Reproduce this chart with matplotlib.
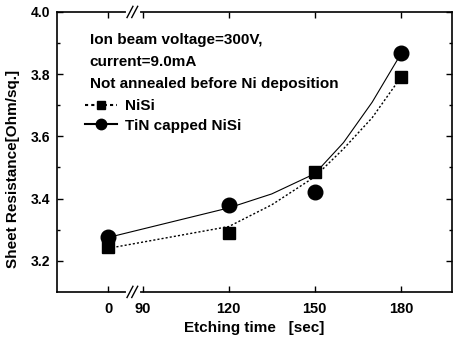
"""
Sheet resistance vs etching time (broken x axis between 0 and 90 s)
"""
import numpy as np
import matplotlib.pyplot as plt

plt.rcParams['font.family'] = ['Liberation Sans', 'DejaVu Sans']
plt.rcParams['font.weight'] = 'bold'

time = [0, 120, 150, 180]
nisi = [3.245, 3.29, 3.485, 3.79]
tin_nisi = [3.278, 3.38, 3.42, 3.868]

# fitted curves
fit_time = [0, 120, 135, 150, 160, 170, 180]
nisi_fit = [3.24, 3.31, 3.38, 3.47, 3.56, 3.66, 3.79]
tin_fit = [3.275, 3.37, 3.415, 3.48, 3.58, 3.71, 3.865]

xtick_vals = [0, 90, 120, 150, 180]
ytick_vals = [3.2, 3.4, 3.6, 3.8, 4.0]

def pos(t):
    # the 0 point sits just left of the axis break
    t = np.asarray(t, dtype=float)
    return np.where(t >= 90, t, t + 78)

fig = plt.figure(figsize=(4.57, 3.41), dpi=100)
ax = fig.add_axes([0.125, 0.144, 0.864, 0.821])

ax.plot(pos(fit_time), nisi_fit, color='black', linestyle=(0, (1.5, 1.5)), linewidth=1.0)
ax.plot(pos(fit_time), tin_fit, color='black', linestyle='-', linewidth=0.8)
ax.plot(pos(time), nisi, 's', color='black', markersize=9)
ax.plot(pos(time), tin_nisi, 'o', color='black', markersize=10.5)

ax.set_xlim(60.2, 197.8)
ax.set_ylim(3.1, 4.0)
ax.set_xticks(pos(xtick_vals))
ax.set_xticklabels([str(v) for v in xtick_vals])
ax.set_yticks(ytick_vals)
ax.set_yticklabels(['%.1f' % v for v in ytick_vals])
ax.set_yticks([3.3, 3.5, 3.7, 3.9], minor=True)
ax.tick_params(which='both', direction='in', top=True, right=True, width=1)
ax.tick_params(axis='x', labelsize=10.5, pad=7)
ax.tick_params(axis='y', labelsize=10, pad=5)
ax.tick_params(which='major', length=4)
ax.tick_params(which='minor', length=2)
for s in ax.spines.values():
    s.set_linewidth(1.2)

ax.set_xlabel('Etching time   [sec]', fontsize=11, fontweight='bold', labelpad=4)
ax.set_ylabel('Sheet Resistance[Ohm/sq.]', fontsize=11, fontweight='bold')
ax.yaxis.set_label_coords(-0.095, 0.44)

# axis break marks
for yb in (0, 1):
    ax.plot([0.18, 0.205], [yb, yb], transform=ax.transAxes, color='white',
            linewidth=3, clip_on=False, zorder=5)
    for dx in (0.0, 0.012):
        ax.plot([0.177 + dx, 0.192 + dx], [yb - 0.02, yb + 0.02], transform=ax.transAxes,
                color='black', linewidth=1, clip_on=False, zorder=6)

ax.text(0.082, 0.9, 'Ion beam voltage=300V,', transform=ax.transAxes, fontsize=11, va='center')
ax.text(0.082, 0.822, 'current=9.0mA', transform=ax.transAxes, fontsize=11, va='center')
ax.text(0.082, 0.743, 'Not annealed before Ni deposition', transform=ax.transAxes, fontsize=11, va='center')

leg = ax.legend(
    [plt.Line2D([], [], color='black', linestyle=(0, (1.5, 1.5)), marker='s', markersize=6),
     plt.Line2D([], [], color='black', linestyle='-', marker='o', markersize=7.5)],
    ['NiSi', 'TiN capped NiSi'],
    loc='upper left', bbox_to_anchor=(0.055, 0.71), frameon=False, fontsize=11,
    handlelength=2.1, handletextpad=0.5, labelspacing=0.35, borderaxespad=0)

fig.savefig('out.png', dpi=100)
